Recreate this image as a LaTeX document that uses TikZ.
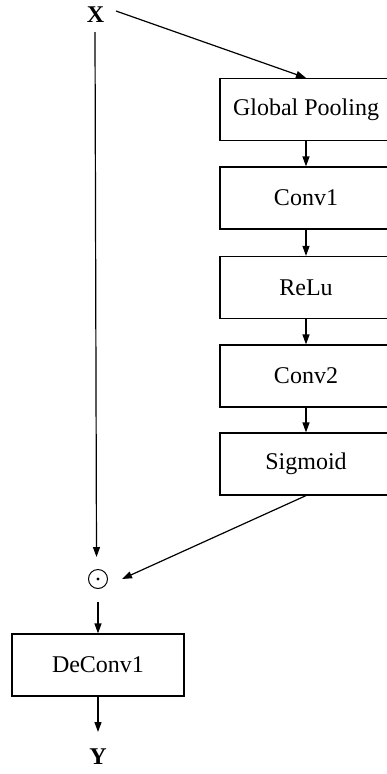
\documentclass[tikz,border=0pt]{standalone}
\usepackage{fontspec}
\setmainfont{Liberation Serif}
\usetikzlibrary{arrows.meta}
\begin{document}
\begin{tikzpicture}[x=1pt,y=-1pt,
  font=\fontsize{24}{28}\selectfont,
  blk/.style={draw,line width=1.2pt,minimum width=172pt,minimum height=62pt,inner sep=0pt},
  arr/.style={line width=1.2pt,-{Triangle[length=10pt,width=7pt]}},
  odotnode/.style={circle,draw,line width=1pt,minimum size=19pt,inner sep=0pt}]
\useasboundingbox (0,0) rectangle (386,774);
\node[inner sep=0pt] (x) at (95.5,15) {\textbf{X}};
\node[blk] (gp) at (306,109.5) {Global Pooling};
\node[blk] (c1) at (306,198) {Conv1};
\node[blk] (relu) at (306,287.5) {ReLu};
\node[blk] (c2) at (306,376) {Conv2};
\node[blk] (sig) at (306,464) {Sigmoid};
\node[odotnode] (dot) at (98,579) {};
\fill (dot.center) circle (1.6pt);
\node[blk] (dc) at (98,665) {DeConv1};
\node[inner sep=0pt] (y) at (98,757) {\textbf{Y}};
\coordinate (xs) at (116,11);
\coordinate (vs) at (95,32);
\coordinate (ve) at (96.5,557);
\coordinate (de) at (122,579);
\coordinate (ds) at (98,602);
\coordinate (ye) at (98,732);
\draw[arr] (xs) -- (gp.north);
\draw[arr] (gp) -- (c1);
\draw[arr] (c1) -- (relu);
\draw[arr] (relu) -- (c2);
\draw[arr] (c2) -- (sig);
\draw[arr] (vs) -- (ve);
\draw[arr] (sig.south) -- (de);
\draw[arr] (ds) -- (dc.north);
\draw[arr] (dc) -- (ye);
\end{tikzpicture}
\end{document}
